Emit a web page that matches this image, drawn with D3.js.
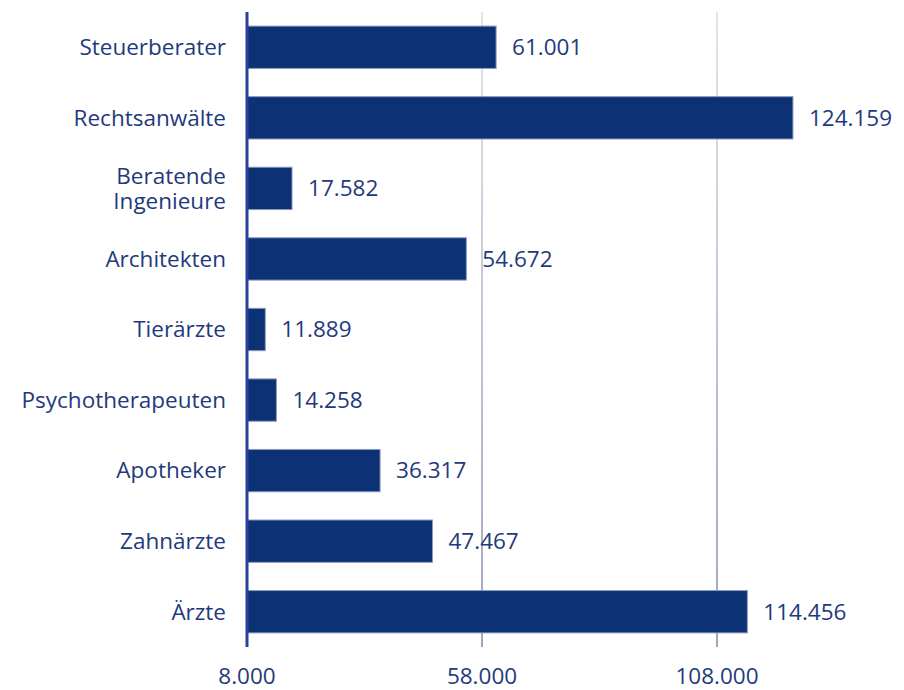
<!DOCTYPE html>
<html>
<head>
<meta charset="utf-8">
<script src="https://cdn.jsdelivr.net/npm/d3@7"></script>
<style>
  body { margin: 0; background: #fff; }
  text { font-family: "Open Sans", "Noto Sans", sans-serif; }
</style>
</head>
<body>
<div id="chart"></div>
<script>
// data
const categories = ["Steuerberater", "Rechtsanwälte", "Beratende Ingenieure", "Architekten",
    "Tierärzte", "Psychotherapeuten", "Apotheker", "Zahnärzte", "Ärzte"];
const values = [61001, 124159, 17582, 54672, 11889, 14258, 36317, 47467, 114456];
const tickValues = [8000, 58000, 108000];

const width = 904, height = 690;
const axisX = 247;

const svg = d3.select("#chart")
    .append("svg")
    .attr("width", width)
    .attr("height", height);

// german number format: 61.001
const fmt = d3.formatLocale({decimal: ",", thousands: ".", grouping: [3], currency: ["", " €"]}).format(",d");

const x = d3.scaleLinear()
    .domain([8000, 108000])
    .range([axisX, 717]);

const y = d3.scaleBand()
    .domain(categories)
    .range([12, 647])
    .paddingInner(0.4)
    .paddingOuter(0.2);

// gridlines fade from light grey at top to grey-blue at bottom
const grad = svg.append("defs").append("linearGradient")
    .attr("id", "gridGrad")
    .attr("gradientUnits", "userSpaceOnUse")
    .attr("x1", 0).attr("y1", 12)
    .attr("x2", 0).attr("y2", 647);
grad.append("stop").attr("offset", "0%").attr("stop-color", "#e4e4e8");
grad.append("stop").attr("offset", "100%").attr("stop-color", "#9ea6c0");

svg.append("g")
    .selectAll("line")
    .data(tickValues.slice(1))
    .join("line")
    .attr("x1", d => x(d)).attr("x2", d => x(d))
    .attr("y1", 12).attr("y2", 647)
    .attr("stroke", "url(#gridGrad)")
    .attr("stroke-width", 2);

// bars
svg.append("g")
    .selectAll("rect")
    .data(values)
    .join("rect")
    .attr("x", x(8000))
    .attr("y", (d, i) => y(categories[i]))
    .attr("width", d => x(d) - x(8000))
    .attr("height", y.bandwidth())
    .attr("fill", "#0c3174")
    .attr("stroke", "#8a9ac0")
    .attr("stroke-width", 1);

// value labels
svg.append("g")
    .selectAll("text")
    .data(values)
    .join("text")
    .attr("x", d => x(d) + 16)
    .attr("y", (d, i) => y(categories[i]) + y.bandwidth() / 2)
    .attr("dy", "0.35em")
    .attr("font-size", 22.5)
    .attr("fill", "#1f3a7c")
    .text(d => fmt(d));

// category labels, two lines where the name has a space
const lab = svg.append("g")
    .selectAll("text")
    .data(categories)
    .join("text")
    .attr("x", 226)
    .attr("y", d => y(d) + y.bandwidth() / 2)
    .attr("text-anchor", "end")
    .attr("font-size", 22.5)
    .attr("fill", "#1f3a7c");
lab.each(function (d) {
    const parts = d.split(" ");
    const t = d3.select(this);
    parts.forEach((p, i) => {
        t.append("tspan")
            .attr("x", 226)
            .attr("dy", i === 0 ? (0.35 - (parts.length - 1) * 0.55) + "em" : "1.1em")
            .text(p);
    });
});

// bottom tick labels
svg.append("g")
    .selectAll("text")
    .data(tickValues)
    .join("text")
    .attr("x", d => x(d))
    .attr("y", 676)
    .attr("dy", "0.35em")
    .attr("text-anchor", "middle")
    .attr("font-size", 22.5)
    .attr("fill", "#1f3a7c")
    .text(d => fmt(d));

// y axis line
svg.append("line")
    .attr("x1", axisX).attr("x2", axisX)
    .attr("y1", 12).attr("y2", 647)
    .attr("stroke", "#2a409a")
    .attr("stroke-width", 3);
</script>
</body>
</html>
